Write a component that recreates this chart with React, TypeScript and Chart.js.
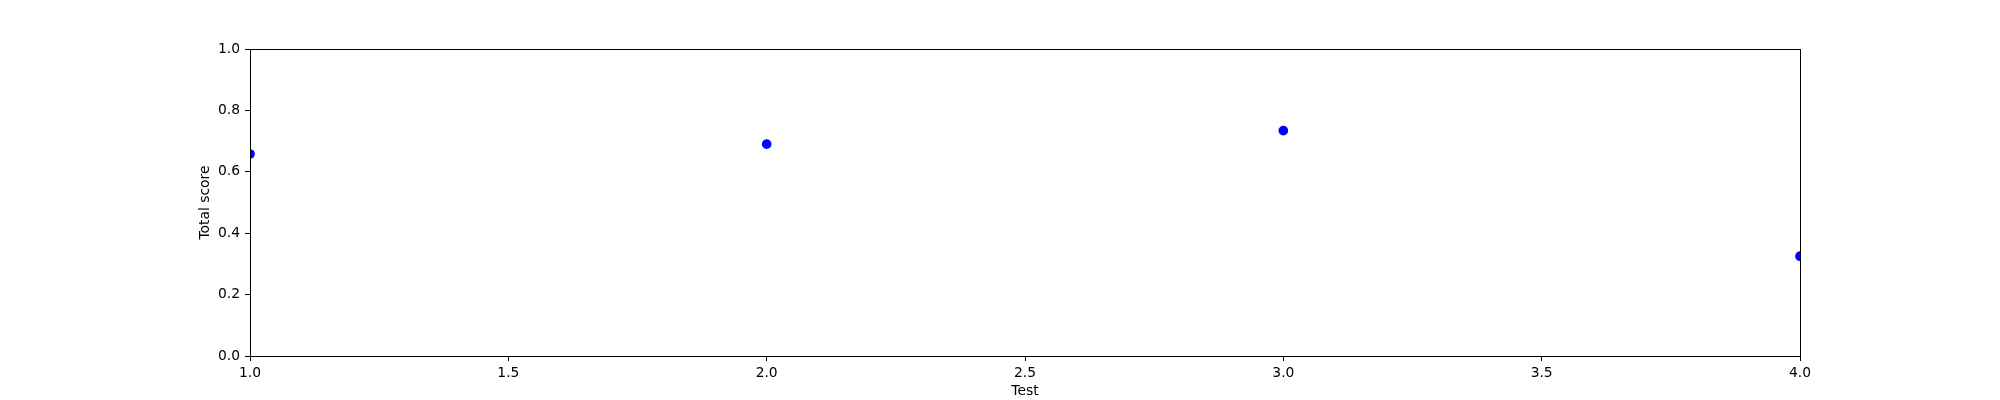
import React, { useEffect, useRef } from "react";
import { Chart, registerables } from "chart.js";

Chart.register(...registerables);

const testNumbers: number[] = [1, 2, 3, 4];
const totalScores: number[] = [0.658, 0.69, 0.734, 0.325];
const xTickValues: number[] = [1.0, 1.5, 2.0, 2.5, 3.0, 3.5, 4.0];
const yTickValues: number[] = [0.0, 0.2, 0.4, 0.6, 0.8, 1.0];
const xTitle = "Test";
const yTitle = "Total score";

const FONT = "'DejaVu Sans', sans-serif";
const FS = 13.89;

const framePlugin = {
  id: "frame",
  afterDraw(chart: any) {
    const { ctx, chartArea } = chart;
    ctx.save();
    ctx.strokeStyle = "#000";
    ctx.lineWidth = 1;
    ctx.strokeRect(
      Math.round(chartArea.left) + 0.5,
      Math.round(chartArea.top) + 0.5,
      Math.round(chartArea.right - chartArea.left),
      Math.round(chartArea.bottom - chartArea.top)
    );
    ctx.restore();
  },
};

export default function App() {
  const ref = useRef<HTMLCanvasElement | null>(null);
  useEffect(() => {
    if (!ref.current) return;
    const chart = new Chart(ref.current, {
      type: "scatter",
      data: {
        datasets: [
          {
            data: testNumbers.map((x, i) => ({ x, y: totalScores[i] })),
            backgroundColor: "#0000ff",
            borderColor: "#0000ff",
            pointRadius: 4.17,
            pointBorderWidth: 1.39,
            pointHoverRadius: 4.17,
            clip: 0,
          } as any,
        ],
      },
      plugins: [framePlugin],
      options: {
        animation: false,
        responsive: false,
        devicePixelRatio: 1,
        events: [],
        layout: { padding: { left: 197, right: 200, top: 49, bottom: 0 } },
        plugins: { legend: { display: false }, tooltip: { enabled: false } },
        scales: {
          x: {
            type: "linear",
            min: 1,
            max: 4,
            afterFit: (s: any) => {
              s.height = 44;
            },
            afterBuildTicks: (s: any) => {
              s.ticks = xTickValues.map((v) => ({ value: v }));
            },
            ticks: {
              color: "#000",
              font: { family: FONT, size: FS },
              padding: 4,
              maxRotation: 0,
              autoSkip: false,
              callback: (v: any) => Number(v).toFixed(1),
            },
            grid: {
              drawOnChartArea: false,
              drawTicks: true,
              tickLength: 5,
              color: "#000",
            },
            border: { display: true, color: "#000" },
            title: {
              display: true,
              text: xTitle,
              color: "#000",
              font: { family: FONT, size: FS },
              padding: 0,
            },
          },
          y: {
            type: "linear",
            min: 0,
            max: 1,
            afterFit: (s: any) => {
              s.width = 53;
            },
            afterBuildTicks: (s: any) => {
              s.ticks = yTickValues.map((v) => ({ value: v }));
            },
            ticks: {
              color: "#000",
              font: { family: FONT, size: FS },
              padding: 5,
              autoSkip: false,
              callback: (v: any) => Number(v).toFixed(1),
            },
            grid: {
              drawOnChartArea: false,
              drawTicks: true,
              tickLength: 5,
              color: "#000",
            },
            border: { display: true, color: "#000" },
            title: {
              display: true,
              text: yTitle,
              color: "#000",
              font: { family: FONT, size: FS },
              padding: 0,
            },
          },
        },
      },
    });
    return () => chart.destroy();
  }, []);
  return (
    <div style={{ position: "fixed", left: 0, top: 0, width: 2000, height: 400, background: "#fff" }}>
      <canvas ref={ref} width={2000} height={400} style={{ width: 2000, height: 400 }} />
    </div>
  );
}
